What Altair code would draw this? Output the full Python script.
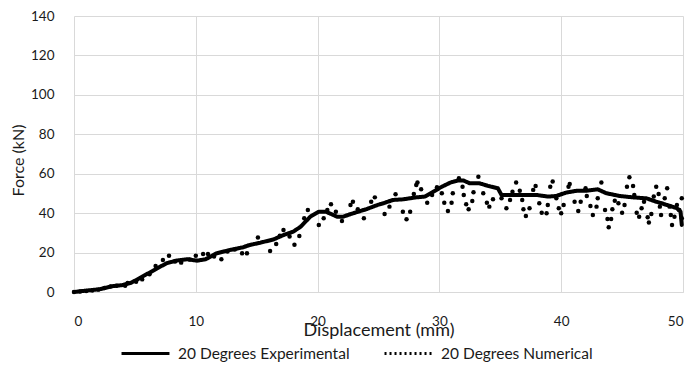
import altair as alt
import pandas as pd

# Experimental curve (thick solid line)
exp_x = [0, 1.0, 2.1, 3.2, 4.0, 4.7, 5.7, 6.6, 7.6, 8.4, 9.3, 10.1, 10.8, 11.7, 12.8,
         13.9, 14.4, 15.3, 16.4, 17.2, 18.0, 18.6, 19.4, 20.1, 20.7, 21.6, 22.1, 22.9,
         24.0, 24.9, 25.4, 26.2, 27.0, 28.1, 28.8, 29.5, 30.2, 30.9, 31.5, 32.0, 32.5,
         33.3, 34.0, 34.8, 35.1, 35.8, 36.9, 38.0, 38.9, 39.6, 40.4, 41.3, 42.1, 43.0,
         43.7, 44.8, 45.9, 47.0, 47.8, 48.7, 49.5, 49.8, 49.9]
exp_y = [0, 0.7, 1.4, 3.0, 3.5, 4.7, 8.1, 11.2, 14.6, 15.9, 16.6, 15.9, 16.6, 19.6, 21.3,
         22.7, 23.8, 25.0, 26.7, 28.9, 30.6, 33.1, 38.2, 40.7, 40.7, 38.2, 38.2, 39.9,
         42.0, 44.1, 45.0, 46.7, 47.0, 48.0, 48.4, 50.9, 53.4, 55.5, 56.5, 56.5, 55.1,
         55.1, 53.8, 52.6, 49.2, 49.2, 49.2, 49.2, 48.4, 48.7, 50.4, 51.4, 51.4, 52.1,
         50.1, 48.7, 48.0, 47.5, 45.8, 44.1, 42.5, 40.7, 34.0]

# Numerical results (dots)
num_x = [0, 0.5, 1.0, 1.5, 2.0, 2.5, 3.0, 3.5, 4.2, 4.4, 5.1, 5.6, 6.2, 6.7, 7.3, 7.8,
         8.3, 8.8, 9.5, 10.0, 10.6, 11.0, 11.5, 12.1, 12.6, 13.2, 13.8, 14.2, 15.1,
         16.1, 16.6, 16.9, 17.2, 17.7, 18.1, 18.5, 18.9, 19.2, 20.1, 20.5, 20.8, 21.1,
         21.5, 22.0, 22.7, 22.9, 23.3, 23.8, 24.4, 24.7, 25.5, 25.9, 26.4, 27.0, 27.3,
         27.6, 27.9, 28.1, 28.2, 28.5, 29.0, 29.4, 29.8, 30.2, 30.4, 30.7, 31.0, 31.1,
         31.6, 31.9, 32.0, 32.2, 32.4, 32.7, 32.8, 33.2, 33.6, 33.9, 34.1, 34.4, 35.1,
         35.5, 35.8, 36.0, 36.3, 36.6, 36.8, 36.9, 37.1, 37.4, 37.7, 37.9, 38.2, 38.4,
         38.8, 38.9, 39.1, 39.3, 39.6, 39.8, 40.0, 40.2, 40.6, 40.7, 41.1, 41.4, 41.6,
         42.0, 42.1, 42.4, 42.6, 42.9, 43.0, 43.3, 43.6, 43.8, 43.9, 44.1, 44.2, 44.4,
         44.7, 45.0, 45.2, 45.4, 45.6, 45.9, 46.0, 46.2, 46.4, 46.6, 46.8, 47.1, 47.2,
         47.4, 47.6, 47.8, 48.0, 48.1, 48.2, 48.5, 48.7, 48.9, 49.0, 49.1, 49.3, 49.5,
         49.7, 49.9, 49.9]
num_y = [0, 0.2, 0.5, 0.8, 1.2, 2.0, 2.8, 3.2, 3.2, 4.6, 5.2, 6.4, 9.0, 13.2, 16.2, 18.4,
         15.5, 14.9, 16.5, 18.4, 19.3, 19.3, 18.0, 16.6, 20.5, 21.5, 19.6, 19.6, 27.6,
         20.8, 24.4, 28.6, 31.5, 28.1, 24.0, 28.4, 37.4, 41.6, 34.0, 37.4, 41.6, 44.5,
         40.7, 36.0, 44.1, 45.8, 42.0, 37.4, 45.8, 48.0, 39.6, 43.3, 49.6, 40.7, 36.9,
         40.7, 49.7, 54.3, 55.5, 52.1, 45.3, 49.2, 53.1, 50.1, 45.3, 41.1, 45.3, 50.1,
         57.7, 53.4, 49.2, 44.5, 42.0, 46.2, 50.6, 58.5, 50.1, 45.3, 43.3, 47.0, 47.5,
         42.5, 46.7, 50.9, 55.5, 51.4, 46.7, 42.0, 38.6, 42.5, 51.8, 53.8, 45.0, 40.2,
         39.9, 44.1, 53.4, 56.0, 47.5, 42.5, 39.9, 44.1, 53.4, 54.8, 45.8, 41.1, 45.8,
         52.6, 48.7, 43.6, 39.1, 43.3, 47.5, 55.5, 41.6, 37.0, 32.8, 37.0, 42.0, 46.3,
         45.0, 40.2, 44.1, 53.4, 58.2, 53.8, 49.2, 40.2, 38.2, 42.5, 45.8, 37.9, 35.2,
         39.6, 48.4, 53.4, 49.7, 43.3, 39.1, 47.5, 52.6, 43.3, 39.1, 34.0, 38.2, 44.1,
         41.6, 37.4, 47.5]

series = ["20 Degrees Experimental", "20 Degrees Numerical"]
x_ticks = [0, 10, 20, 30, 40, 50]
y_ticks = [0, 20, 40, 60, 80, 100, 120, 140]

FONT = "Lato"
TXT = "#1a1a1a"
GRID = "#d9d9d9"

exp_df = pd.DataFrame({"x": exp_x, "y": exp_y, "series": series[0]})
num_df = pd.DataFrame({"x": num_x, "y": num_y})

xs = alt.Scale(domain=[0, 50], nice=False)
ys = alt.Scale(domain=[0, 140], nice=False)

x_axis = alt.Axis(values=x_ticks, title="Displacement (mm)", grid=True, gridColor=GRID,
                  domainColor=GRID, ticks=False, labelPadding=22, labelFont=FONT,
                  labelFontSize=13.5, labelColor=TXT, labelOverlap=False,
                  titleFont=FONT, titleFontSize=18,
                  titleFontWeight="normal", titleColor=TXT, titleY=43,
                  titleBaseline="alphabetic")
y_axis = alt.Axis(values=y_ticks, title="Force (kN)", grid=True, gridColor=GRID,
                  domain=False, ticks=False, labelPadding=20, labelFont=FONT,
                  labelFontSize=13.5, labelColor=TXT, labelOverlap=False,
                  titleFont=FONT, titleFontSize=16,
                  titleFontWeight="normal", titleColor=TXT, titleX=-56, titleY=144,
                  titleBaseline="middle", titleAngle=-90)

line = alt.Chart(exp_df).mark_line(color="black", strokeWidth=4, strokeJoin="round",
                                   strokeCap="round").encode(
    x=alt.X("x:Q", scale=xs, axis=x_axis),
    y=alt.Y("y:Q", scale=ys, axis=y_axis),
    strokeDash=alt.StrokeDash(
        "series:N",
        scale=alt.Scale(domain=series, range=[[1, 0], [2, 3]]),
        legend=alt.Legend(title=None, orient="none", direction="horizontal",
                          legendX=46, legendY=312, symbolType="stroke",
                          symbolSize=2300, symbolStrokeWidth=3,
                          symbolStrokeColor="black", labelFont=FONT,
                          labelFontSize=15.5, labelColor=TXT, labelOffset=7,
                          labelLimit=0, columnPadding=28),
    ),
)

dots = alt.Chart(num_df).mark_circle(color="black", size=20, opacity=1).encode(
    x=alt.X("x:Q", scale=xs, axis=x_axis),
    y=alt.Y("y:Q", scale=ys, axis=y_axis),
)

chart = alt.layer(line, dots).properties(
    width=609, height=276,
    autosize=alt.AutoSizeParams(type="none"),
    padding={"left": 74, "top": 16, "right": 11, "bottom": 74},
    background="white",
).configure_view(stroke=None)

chart.save("out.html", embed_options={"renderer": "svg", "actions": False})
